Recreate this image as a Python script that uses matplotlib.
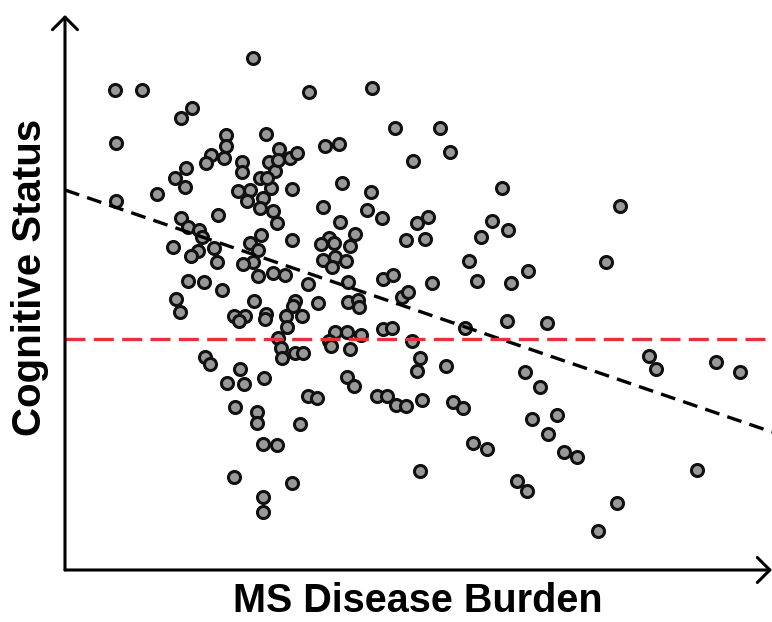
import matplotlib
matplotlib.use("Agg")
import matplotlib.pyplot as plt
import numpy as np

plt.rcParams['font.family'] = ['Liberation Sans', 'DejaVu Sans']

# disease burden (x) and cognitive status (y), arbitrary units
burden = [188, 50, 77, 127, 116, 51, 161, 161, 159, 146, 141, 201, 177, 177, 204, 210,
          121, 110, 120, 92, 51, 173, 185, 182, 195, 206, 198, 195, 208, 212, 153, 116,
          123, 134, 137, 108, 133, 126, 149, 152, 185, 196, 193, 188, 178, 208, 193, 123,
          139, 157, 214, 202, 111, 115, 189, 169, 180, 174, 201, 200, 213, 216, 217, 140,
          145, 175, 330, 260, 274, 225, 232, 227, 277, 306, 258, 302, 317, 275, 227, 290,
          264, 256, 269, 285, 258, 270, 281, 267, 341, 220, 243, 283, 318, 328, 337, 343,
          253, 283, 293, 294, 230, 228, 221, 237, 222, 270, 282, 296, 264, 266, 318, 327,
          285, 230, 238, 244, 307, 375, 385, 348, 352, 363, 360, 367, 437, 427, 443, 416,
          404, 412, 446, 463, 541, 555, 199, 162, 179, 170, 192, 192, 198, 212, 169, 198,
          198, 347, 355, 352, 381, 282, 289, 243, 252, 312, 322, 331, 341, 357, 388, 398,
          235, 355, 227, 400, 442, 482, 460, 475, 467, 492, 483, 408, 422, 499, 512, 452,
          462, 552, 584, 591, 651, 675, 632, 533, 213]
cognition = [512, 480, 480, 462, 452, 427, 435, 424, 412, 415, 407, 436, 408, 398, 408, 399,
             402, 392, 383, 376, 369, 379, 380, 369, 392, 382, 372, 362, 359, 347, 355, 352,
             343, 340, 333, 323, 319, 314, 322, 308, 327, 335, 320, 308, 306, 297, 294, 289,
             288, 280, 421, 392, 271, 258, 269, 254, 254, 249, 256, 251, 232, 222, 212, 213,
             206, 201, 442, 424, 426, 412, 417, 381, 387, 378, 363, 360, 352, 348, 330, 336,
             332, 326, 327, 324, 310, 313, 309, 303, 330, 295, 286, 288, 291, 295, 273, 278,
             267, 268, 270, 263, 269, 264, 254, 254, 243, 238, 238, 235, 229, 224, 241, 242,
             221, 217, 217, 478, 482, 442, 418, 409, 347, 353, 331, 287, 382, 349, 340, 333,
             309, 289, 287, 299, 308, 364, 192, 187, 186, 163, 158, 147, 126, 125, 93, 73,
             58, 229, 212, 199, 204, 193, 184, 174, 172, 174, 174, 165, 164, 170, 168, 162,
             146, 99, 87, 242, 249, 247, 198, 183, 151, 155, 136, 127, 121, 118, 113, 89,
             79, 67, 214, 201, 208, 198, 100, 39, 410]

x_max = 707
y_max = 555
trend_start = 380   # fitted line value at zero burden
trend_end = 138     # fitted line value at x_max
impairment_cut = 231

fig = plt.figure(figsize=(7.72, 6.22), dpi=100)
ax = fig.add_axes([65 / 772, 52 / 622, 707 / 772, 555 / 622])

ax.scatter(burden, cognition, s=75, c='#999999', edgecolors='#111111',
           linewidths=2.2, zorder=2)

ax.plot([0, x_max], [trend_start, trend_end], color='black', lw=2.4,
        linestyle=(0, (4.5, 2.5)), zorder=3, clip_on=False)
ax.plot([0, x_max], [impairment_cut, impairment_cut], color='#e8303a', lw=2.4,
        linestyle=(0, (6, 2.5)), zorder=3, clip_on=False)

ax.set_xlim(0, x_max)
ax.set_ylim(0, y_max)
for s in ax.spines.values():
    s.set_visible(False)
ax.set_xticks([])
ax.set_yticks([])

arrow = dict(arrowstyle='->,head_length=0.9,head_width=0.9', lw=2.2,
             color='black', shrinkA=0, shrinkB=0)
ax.annotate('', xy=(0, 1), xytext=(0, 0), xycoords='axes fraction',
            arrowprops=arrow, annotation_clip=False)
ax.annotate('', xy=(1, 0), xytext=(0, 0), xycoords='axes fraction',
            arrowprops=arrow, annotation_clip=False)

fig.text(418 / 772, 2 / 622, 'MS Disease Burden', ha='center', va='bottom',
         fontsize=28.5, fontweight='bold')
fig.text(30 / 772, (622 - 277) / 622, 'Cognitive Status', ha='center', va='center',
         rotation=90, fontsize=29, fontweight='bold')

fig.savefig('out.png', dpi=100)
